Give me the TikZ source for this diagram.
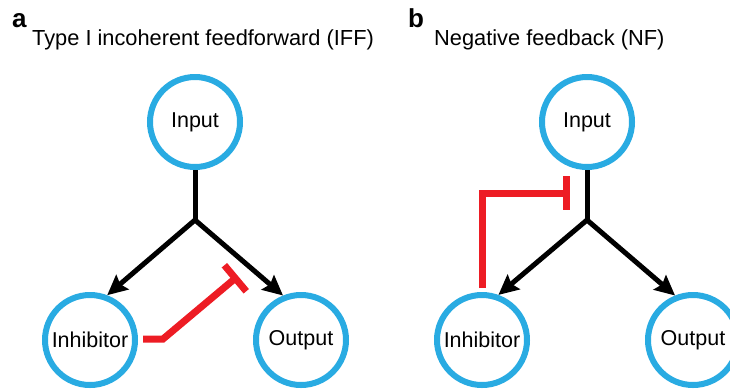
\documentclass[tikz,border=0pt]{standalone}
\usepackage{fontspec}
\setmainfont{Liberation Sans}
\usetikzlibrary{arrows.meta,calc}
\definecolor{cyanc}{HTML}{29ABE2}
\definecolor{redc}{HTML}{ED1C24}
\begin{document}
\begin{tikzpicture}[x=1pt,y=-1pt,
 circ/.style={circle, draw=cyanc, line width=6pt, minimum size=90pt, inner sep=0pt, font=\fontsize{21.5}{24}\selectfont},
 blk/.style={line width=5pt, line join=miter},
 act/.style={blk, {Stealth[length=20pt,width=19pt,inset=3pt]}-{Stealth[length=20pt,width=19pt,inset=3pt]}},
 inh/.style={draw=redc, line width=7pt, -{Bar[width=34pt]}},
 lab/.style={anchor=base west, inner sep=0pt, font=\fontsize{26}{30}\selectfont\bfseries},
 ttl/.style={anchor=base west, inner sep=0pt, font=\fontsize{21.8}{26}\selectfont}]
\clip (0,0) rectangle (730,389);
% panel a
\node[lab] (la) at (12,27) {a};
\node[ttl] (ta) at (32,45) {Type I incoherent feedforward (IFF)};
\node[circ] (inA) at (195,122) {Input};
\node[circ] (inhA) at (90,340) {Inhibitor};
\node[circ] (outA) at (301,340) {Output};
\coordinate (jA) at (195,220);
\coordinate (teeA) at (238,276);
\draw[blk] (inA) -- (jA);
\draw[act] (inhA.69) -- (jA) -- (outA.112);
\draw[inh] ($(inhA.east)+(5,-1)$) -- ++(20,0) -- (teeA);
% panel b
\node[lab] (lb) at (408,27) {b};
\node[ttl] (tb) at (434,45) {Negative feedback (NF)};
\node[circ] (inB) at (587,122) {Input};
\node[circ] (inhB) at (482,340) {Inhibitor};
\node[circ] (outB) at (693,340) {Output};
\coordinate (jB) at (587,220);
\coordinate (teeB) at (570,193);
\draw[blk] (inB) -- (jB);
\draw[act] (inhB.70) -- (jB) -- (outB.112);
\draw[inh] ($(inhB.north)+(0,-4)$) |- (teeB);
\end{tikzpicture}
\end{document}
